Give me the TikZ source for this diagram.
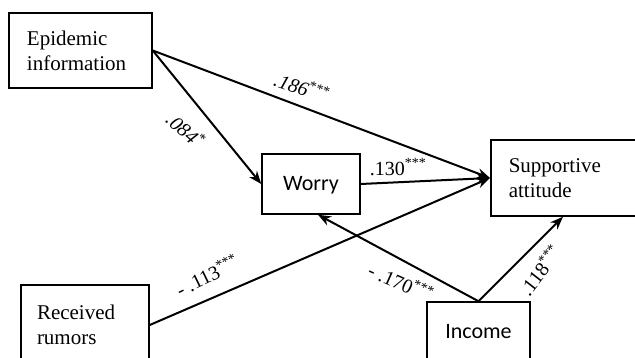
\documentclass[tikz,border=0pt]{standalone}
\usepackage{fontspec}
\setmainfont{Liberation Serif}
\newfontfamily\calib{Carlito}
\usetikzlibrary{arrows.meta,calc}

\begin{document}
\begin{tikzpicture}[x=1pt,y=-1pt,
  box/.style={draw, line width=1.5pt, inner ysep=0pt, align=left,
    font=\fontsize{21}{25}\selectfont},
  sbox/.style={draw, line width=1.5pt, inner sep=0pt,
    font=\calib\fontsize{22}{26}\selectfont},
  link/.style={line width=2pt, -{Stealth[length=13pt,width=10pt]}},
  coef/.style={font=\fontsize{20}{24}\selectfont, inner sep=0pt}]
\useasboundingbox (0,0) rectangle (635,358);
\fill[white] (0,0) rectangle (635,358);

% variables
\node[box, text width=107, inner xsep=18, minimum height=75] (epi) at (80.5,50.5) {Epidemic\\information};
\node[sbox, minimum width=98, minimum height=60, text depth=1pt] (worry) at (311,184) {Worry};
\node[box, anchor=west, text width=124, inner xsep=18, minimum height=76] (supp) at (490,178) {Supportive\\attitude};
\node[box, text width=96, inner xsep=16, minimum height=80] (rumors) at (85,325) {Received\\rumors};
\node[sbox, minimum width=103, minimum height=60] (income) at (478.5,332) {Income};

% paths
\draw[link] (epi.east) -- (supp.west);
\draw[link] (epi.east) -- (worry.west);
\draw[link] (worry.east) -- (supp.west);
\draw[link] (rumors.east) -- (supp.west);
\draw[link] (income.north) -- ($(worry.south)+(7,0)$);
\draw[link] (income.north) -- ($(supp.south west)+(73,0)$);

% path coefficients
\node[coef, rotate=-19] (c1) at (302,87) {\textit{.186}\textsuperscript{***}};
\node[coef, rotate=-42] (c2) at (186,130) {\textit{.084}\textsuperscript{*}};
\node[coef] (c3) at (398,167) {.130\textsuperscript{***}};
\node[coef, rotate=26] (c4) at (207,275) {- .113\textsuperscript{***}};
\node[coef, rotate=-24] (c5) at (401,282) {- .170\textsuperscript{***}};
\node[coef, rotate=52] (c6) at (540,270) {.118\textsuperscript{***}};
\end{tikzpicture}
\end{document}
